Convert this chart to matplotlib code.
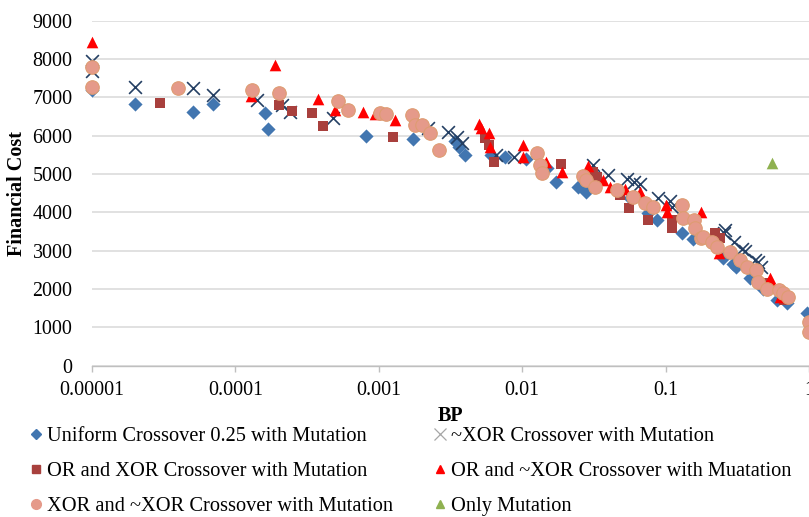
import matplotlib
matplotlib.use("Agg")
import matplotlib.pyplot as plt
from matplotlib.lines import Line2D

plt.rcParams['font.family'] = ['Liberation Serif', 'DejaVu Serif']

# BP / financial cost pairs for each GA variant
uni_bp = [1e-5, 2e-5, 5.1e-5, 7e-5, 1.6e-4, 1.7e-4, 8.1e-4, 1.72e-3, 3.4e-3, 3.6e-3,
          4.0e-3, 6.1e-3, 7.6e-3, 0.0107, 0.0148, 0.0172, 0.0246, 0.028, 0.0565, 0.0757,
          0.0867, 0.1295, 0.1545, 0.25, 0.297, 0.31, 0.39, 0.48, 0.595, 0.70, 0.97]
uni_cost = [7190, 6820, 6610, 6820, 6580, 6170, 6000, 5900, 5860, 5700,
            5490, 5490, 5430, 5400, 5150, 4800, 4670, 4520, 4360, 3970,
            3800, 3450, 3300, 2800, 2640, 2580, 2280, 2000, 1700, 1640, 1360]

nxor_bp = [1e-5, 1e-5, 2e-5, 5.04e-5, 6.95e-5, 1.41e-4, 2.1e-4, 2.4e-4, 4.8e-4, 2.21e-3,
           3.05e-3, 3.5e-3, 3.8e-3, 6.6e-3, 8.7e-3, 0.0313, 0.0399, 0.0535, 0.060, 0.066,
           0.089, 0.107, 0.11, 0.255, 0.26, 0.30, 0.34, 0.36, 0.42, 0.44, 0.46]
nxor_cost = [7950, 7680, 7270, 7230, 7050, 6930, 6800, 6620, 6450, 6190,
             6100, 5970, 5800, 5490, 5450, 5230, 4970, 4880, 4800, 4750,
             4360, 4300, 4140, 3450, 3530, 3230, 3050, 2980, 2750, 2700, 2580]

or_xor_bp = [2.98e-5, 2.02e-4, 2.47e-4, 3.4e-4, 4.1e-4, 1.26e-3, 5.5e-3, 5.9e-3, 6.4e-3, 0.0185,
             0.0313, 0.033, 0.048, 0.0558, 0.0757, 0.11, 0.11, 0.221, 0.24, 0.52, 0.67]
or_xor_cost = [6850, 6790, 6640, 6580, 6250, 5960, 5930, 5750, 5320, 5270,
               5060, 4930, 4450, 4100, 3810, 3800, 3580, 3450, 3320, 2150, 1710]

or_nxor_bp = [1e-5, 1.28e-4, 1.89e-4, 3.79e-4, 4.95e-4, 7.8e-4, 9.4e-4, 1.3e-3, 5.0e-3, 5.2e-3,
              5.9e-3, 6.0e-3, 0.0102, 0.0102, 0.0147, 0.019, 0.0289, 0.0365, 0.041, 0.052,
              0.066, 0.10, 0.102, 0.176, 0.237, 0.535, 0.55, 0.63]
or_nxor_cost = [8450, 7030, 7840, 6950, 6660, 6620, 6570, 6400, 6300, 6190,
                6060, 5710, 5750, 5450, 5300, 5050, 5210, 4840, 4660, 4620,
                4530, 4190, 4010, 4010, 2930, 2280, 2140, 1800]

xor_nxor_bp = [1e-5, 1e-5, 4.0e-5, 1.3e-4, 2.0e-4, 5.2e-4, 6.1e-4, 1.02e-3, 1.13e-3, 1.7e-3,
               1.8e-3, 2.0e-3, 2.28e-3, 2.63e-3, 0.0126, 0.0134, 0.0137, 0.0267, 0.028, 0.032,
               0.0456, 0.0596, 0.072, 0.082, 0.13, 0.133, 0.157, 0.16, 0.177, 0.183,
               0.21, 0.23, 0.28, 0.33, 0.37, 0.43, 0.44, 0.51, 0.62, 0.66, 0.71, 1.0, 1.0]
xor_nxor_cost = [7790, 7270, 7250, 7200, 7120, 6900, 6660, 6600, 6560, 6530,
                 6290, 6270, 6060, 5620, 5550, 5230, 5030, 4950, 4840, 4650,
                 4580, 4400, 4230, 4140, 4190, 3840, 3800, 3580, 3320, 3360,
                 3230, 3100, 2970, 2750, 2580, 2490, 2190, 2010, 1970, 1890, 1800, 1140, 880]

mut_bp = [0.55]
mut_cost = [5280]

labels = ["Uniform Crossover 0.25 with Mutation",
          "~XOR Crossover with Mutation",
          "OR and XOR Crossover with Mutation",
          "OR and ~XOR Crossover with Muatation",
          "XOR and ~XOR Crossover with Mutation",
          "Only Mutation"]

c_blue = '#4276B0'
c_navy = '#243F63'
c_dred = '#A8403D'
c_red = '#FF0000'
c_salmon = '#E59A8A'
c_green = '#8FB150'

fig = plt.figure(figsize=(8.09, 5.17), dpi=100)
ax = fig.add_axes([92 / 809, 0.293, 1 - 92 / 809, 0.960 - 0.293])

kw = dict(clip_on=False, zorder=3)
ax.scatter(uni_bp, uni_cost, marker='D', s=52, color=c_blue, linewidths=0, **kw)
ax.scatter(nxor_bp, nxor_cost, marker='x', s=85, color=c_navy, linewidths=1.2, **kw)
ax.scatter(or_xor_bp, or_xor_cost, marker='s', s=60, color=c_dred, linewidths=0, **kw)
ax.scatter(or_nxor_bp, or_nxor_cost, marker='^', s=70, color=c_red, linewidths=0, **kw)
ax.scatter(xor_nxor_bp, xor_nxor_cost, marker='o', s=95, facecolor=c_salmon,
           edgecolor='#DE9C72', linewidths=0.8, **kw)
ax.scatter(mut_bp, mut_cost, marker='^', s=70, color=c_green, linewidths=0, **kw)

ax.set_xscale('log')
ax.set_xlim(1e-5, 1)
ax.set_ylim(0, 9000)
xt = [1e-5, 1e-4, 1e-3, 1e-2, 1e-1, 1]
ax.set_xticks(xt)
ax.set_xticklabels(["0.00001", "0.0001", "0.001", "0.01", "0.1", "1"])
ax.minorticks_off()
ax.set_yticks(range(0, 9001, 1000))

ax.grid(True, axis='y', color='#D9D9D9', linewidth=1.1, zorder=0)
ax.set_axisbelow(True)
for side in ['top', 'right', 'left']:
    ax.spines[side].set_visible(False)
ax.spines['bottom'].set_color('#BFBFBF')
ax.spines['bottom'].set_linewidth(1.0)
ax.tick_params(axis='x', direction='out', length=4, width=1.0, color='#BFBFBF',
               labelsize=14.4, pad=6.8)
ax.tick_params(axis='y', length=0, labelsize=14.4, pad=14)

ax.set_xlabel("BP", fontsize=14.5, fontweight='bold', labelpad=5)
ax.set_ylabel("Financial Cost", fontsize=14.5, fontweight='bold', labelpad=4)

# legend in two fixed columns below the axis
handles = [
    Line2D([], [], linestyle='none', marker='D', markersize=5, color=c_blue),
    Line2D([], [], linestyle='none', marker='x', markersize=8, color='#A6A6A6', markeredgewidth=0.9),
    Line2D([], [], linestyle='none', marker='s', markersize=5.5, color=c_dred),
    Line2D([], [], linestyle='none', marker='^', markersize=5.5, color=c_red),
    Line2D([], [], linestyle='none', marker='o', markersize=7, color=c_salmon),
    Line2D([], [], linestyle='none', marker='^', markersize=5.5, color=c_green),
]
leg_kw = dict(loc='upper left', frameon=False, fontsize=14.7, handlelength=0.6,
              handletextpad=0.25, borderpad=0, borderaxespad=0, labelspacing=0.76)
fig.legend(handles[0::2], labels[0::2], bbox_to_anchor=(30 / 809, 1 - 427 / 517), **leg_kw)
fig.legend(handles[1::2], labels[1::2], bbox_to_anchor=(434 / 809, 1 - 427 / 517), **leg_kw)

fig.savefig("out.png", dpi=100)
